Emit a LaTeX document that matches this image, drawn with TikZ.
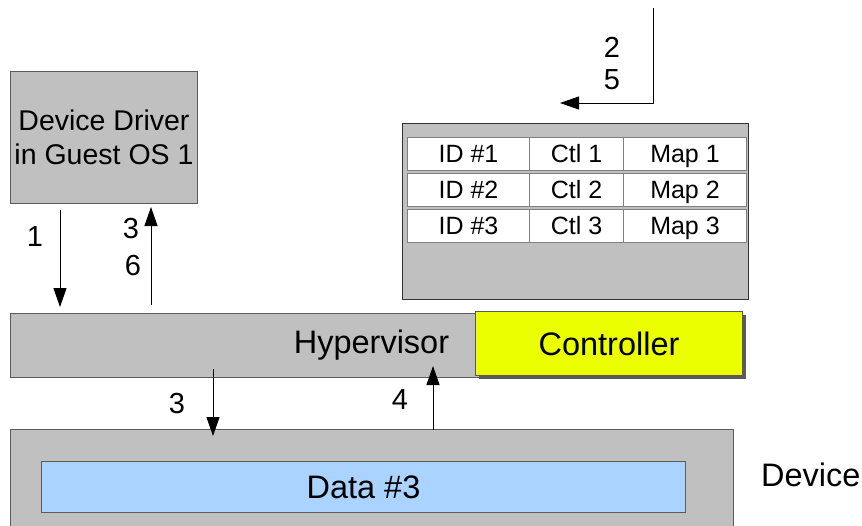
\documentclass[tikz,border=0pt]{standalone}
\usepackage{fontspec}
\setmainfont{Liberation Sans}
\usetikzlibrary{arrows.meta,shadows}
\definecolor{boxgray}{RGB}{192,192,192}
\definecolor{edgegray}{RGB}{90,90,90}
\definecolor{ctlyellow}{RGB}{235,255,0}
\definecolor{datablue}{RGB}{170,212,255}
\tikzset{
  panel/.style={draw=edgegray, fill=boxgray, line width=1pt, anchor=north west, inner sep=0pt},
  cell/.style={draw=gray, fill=white, line width=1pt, anchor=north west, inner sep=0pt,
               minimum height=33pt, text height=17pt, text depth=0pt,
               font=\fontsize{25}{28}\selectfont},
  biglabel/.style={font=\fontsize{32.5}{36}\selectfont, inner sep=0pt},
  steplabel/.style={font=\fontsize{29}{32}\selectfont, inner sep=0pt},
  flow/.style={line width=1pt, -{Triangle[length=19pt,width=13pt]}},
}
\begin{document}
\begin{tikzpicture}[x=1pt, y=-1pt]
  \clip (0,0) rectangle (862,525);
  \useasboundingbox (0,0) rectangle (862,525);

  % guest driver
  \node[panel, minimum width=187pt, minimum height=132pt, align=center,
        font=\fontsize{28.5}{34}\selectfont] (driver) at (10,71)
        {Device Driver\\in Guest OS 1};

  % hypervisor and its controller
  \node[panel, minimum width=722pt, minimum height=64pt, biglabel] (hyp) at (10,313) {Hypervisor};
  \node[draw=edgegray, fill=ctlyellow, line width=1pt, anchor=north west, inner sep=0pt,
        minimum width=267pt, minimum height=64pt, biglabel,
        drop shadow={shadow xshift=3pt, shadow yshift=-3pt, fill=edgegray, opacity=1}]
        (ctrl) at (475,311) {Controller};

  % controller table
  \node[panel, draw=black!80, minimum width=346pt, minimum height=176pt] (tbl) at (402,123) {};
  \foreach \r/\y in {1/137, 2/173, 3/209} {
    \node[cell, minimum width=122pt] (id\r)  at (407,\y) {ID \#\r};
    \node[cell, minimum width=94pt]  (ctl\r) at (529,\y) {Ctl \r};
    \node[cell, minimum width=123pt] (map\r) at (623,\y) {Map \r};
  }

  % device with its data buffer
  \node[panel, minimum width=723pt, minimum height=110pt] (dev) at (10,429) {};
  \node[draw=edgegray, fill=datablue, line width=1pt, anchor=north west, inner sep=0pt,
        minimum width=644pt, minimum height=51pt, biglabel] (data) at (41,461) {Data \#3};
  \node[biglabel, anchor=west] (devname) at (761,475) {Device};

  % request path between driver and hypervisor
  \coordinate (a1s) at (60,210);  \coordinate (a1e) at (60,307);
  \coordinate (a3s) at (151,305); \coordinate (a3e) at (151,207);
  \draw[flow] (a1s) -- (a1e);
  \draw[flow] (a3s) -- (a3e);
  \node[steplabel] (l1) at (35,237) {1};
  \node[steplabel] (l3a) at (131,229) {3};
  \node[steplabel] (l6) at (133,266) {6};

  % path into the controller table
  \coordinate (t0) at (653,8); \coordinate (t1) at (653,103); \coordinate (t2) at (560,103);
  \draw[flow] (t0) -- (t1) -- (t2);
  \node[steplabel] (l2) at (612,47) {2};
  \node[steplabel] (l5) at (612,80) {5};

  % path between hypervisor and device
  \coordinate (d3s) at (213,369); \coordinate (d3e) at (213,436);
  \coordinate (d4s) at (433,430); \coordinate (d4e) at (433,366);
  \draw[flow] (d3s) -- (d3e);
  \draw[flow] (d4s) -- (d4e);
  \node[steplabel] (l3b) at (177,404) {3};
  \node[steplabel] (l4) at (400,400) {4};
\end{tikzpicture}
\end{document}
